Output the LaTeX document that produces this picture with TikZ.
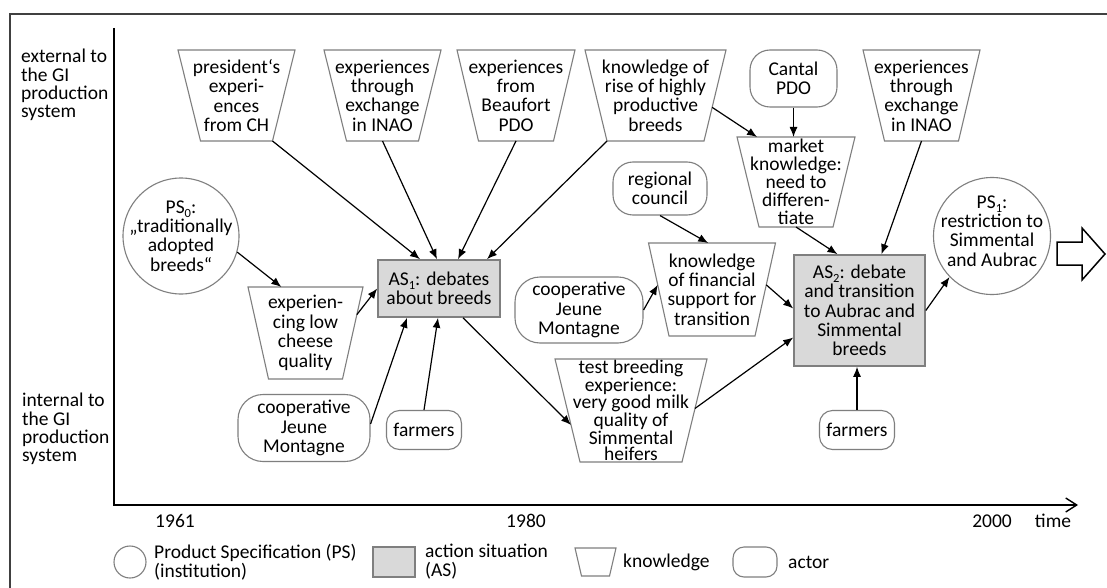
\documentclass[tikz,border=0pt]{standalone}
\usepackage{fontspec}
\setmainfont{Carlito}
\usetikzlibrary{arrows.meta,calc}
\definecolor{shp}{HTML}{7F7F7F}
\definecolor{asfill}{HTML}{D9D9D9}
\definecolor{frm}{HTML}{404040}
\newcommand\sub[1]{\smash{\raisebox{-0.2em}{\fontsize{12.5}{12.5}\selectfont #1}}}
% knowledge trapezoid: name, cx, cy, half top, half bottom, half height, baselineskip, text
\newcommand\knw[8]{%
  \node[font=\fontsize{19.5}{#7}\selectfont] (#1) at (#2,#3) {#8};
  \coordinate (#1-tl) at ({#2-#4},{#3-#6});
  \coordinate (#1-tr) at ({#2+#4},{#3-#6});
  \coordinate (#1-br) at ({#2+#5},{#3+#6});
  \coordinate (#1-bl) at ({#2-#5},{#3+#6});
  \draw[knshape] (#1-tl) -- (#1-tr) -- (#1-br) -- (#1-bl) -- cycle;
}
\tikzset{
  every node/.style={inner sep=0pt, align=center, font=\fontsize{19.5}{19.3}\selectfont},
  knshape/.style={draw=shp, line width=1.1pt},
  actor/.style={draw=shp, line width=1.1pt, rounded corners=#1},
  actor/.default=20pt,
  ps/.style={circle, draw=shp, line width=1.1pt, minimum size=#1},
  asbox/.style={draw=shp, fill=asfill, line width=1.6pt},
  conn/.style={line width=1.2pt, -{Latex[length=10pt,width=8pt]}},
  lbl/.style={anchor=west, align=left},
}
\begin{document}
\begin{tikzpicture}[x=1pt,y=-1pt]
\useasboundingbox (0,0) rectangle (1107,588);
\fill[white] (0,0) rectangle (1107,588);
% frame
\draw[frm, line width=2pt] (10,588) -- (10,14) -- (1107,14);
% axes
\draw[line width=1.4pt, -{Straight Barb[length=11pt,width=14pt]}] (114,28) -- (114,505) -- (1078,505);
% axis labels
\node[lbl, font=\fontsize{19.5}{18.3}\selectfont] (ext) at (21,85) {external to\\the GI\\production\\system};
\node[lbl, font=\fontsize{19.5}{18.3}\selectfont] (int) at (22,429) {internal to\\the GI\\production\\system};
\node (y1961) at (175,521) {1961};
\node (y1980) at (526,521) {1980};
\node (y2000) at (992,521) {2000};
\node (ytime) at (1053,521) {time};

% institutions
\node[ps=116pt] (PS0) at (181,236) {};
\node (PS0t) at (181,236) {PS\sub{0}:\\„traditionally\\adopted\\breeds“};
\node[ps=117pt] (PS1) at (992,236) {};
\node (PS1t) at (992,231) {PS\sub{1}:\\restriction to\\Simmental\\and Aubrac};

% action situations
\node[asbox, minimum width=122pt, minimum height=57pt] (AS1) at (439,288.5) {AS\sub{1}: debates\\about breeds};
\node[asbox, minimum width=131pt, minimum height=111pt] (AS2) at (859.5,310.5) {AS\sub{2}: debate\\and transition\\to Aubrac and\\Simmental\\breeds};

% actors
\node[actor, minimum width=87pt, minimum height=57pt] (cantal) at (793.5,78.5) {Cantal\\PDO};
\node[actor, minimum width=94pt, minimum height=53pt] (regional) at (660,188.5) {regional\\council};
\node[actor=25pt, minimum width=128pt, minimum height=66pt] (coopM) at (579,310) {cooperative\\Jeune\\Montagne};
\node[actor=25pt, minimum width=132pt, minimum height=67pt] (coopB) at (304,428) {cooperative\\Jeune\\Montagne};
\node[actor=13pt, minimum width=75pt, minimum height=39pt] (farmersL) at (424,430) {farmers};
\node[actor=13pt, minimum width=75pt, minimum height=39pt] (farmersR) at (857,430) {farmers};

% knowledge
\knw{pres}{236.5}{95.5}{58.5}{36}{45.5}{19.3}{president‘s\\experi-\\ences\\from CH}
\knw{inaoA}{382.5}{95.5}{58.5}{36}{45.5}{19.3}{experiences\\through\\exchange\\in INAO}
\knw{beau}{516}{95.5}{59}{37.5}{45.5}{19.3}{experiences\\from\\Beaufort\\PDO}
\knw{rise}{655.5}{95.5}{70.5}{48.5}{45.5}{19.3}{knowledge of\\rise of highly\\productive\\breeds}
\knw{inaoB}{921.5}{95.5}{58.5}{37}{45.5}{19.3}{experiences\\through\\exchange\\in INAO}
\knw{mkt}{796}{182}{59}{37}{45}{18}{market\\knowledge:\\need to\\differen-\\tiate}
\knw{exp}{305.5}{333}{57.5}{37}{46}{19.5}{experien-\\cing low\\cheese\\quality}
\knw{fin}{712}{289.5}{63.5}{43}{46.5}{19.3}{knowledge\\of financial\\support for\\transition}
\knw{tb}{631}{410.5}{76}{51}{51.5}{16.4}{test breeding\\experience:\\very good milk\\quality of\\Simmental\\heifers}

% connectors
\draw[conn] (pres-br) -- ($(AS1.north)+(-19,0)$);
\draw[conn] ($(inaoA-bl)!0.5!(inaoA-br)$) -- ($(AS1.north)+(-2,0)$);
\draw[conn] ($(beau-bl)!0.5!(beau-br)$) -- ($(AS1.north)+(19,0)$);
\draw[conn] (rise-bl) -- ($(AS1.north)+(48,0)$);
\draw[conn] (PS0.344) -- ($(exp-tl)!0.29!(exp-tr)$);
\draw[conn] ($(exp-tr)!0.3!(exp-br)$) -- (AS1.west);
\draw[conn] ($(coopB.east)+(0,-4)$) -- ($(AS1.south)+(-32,0)$);
\draw[conn] (farmersL.north) -- ($(AS1.south)+(-1,0)$);
\draw[conn] ($(AS1.south)+(24,0)$) -- ($(tb-tl)!0.64!(tb-bl)$);
\draw[conn] ($(rise-tr)!0.63!(rise-br)$) -- ($(mkt-tl)!0.17!(mkt-tr)$);
\draw[conn] (cantal.south) -- (cantal.south |- mkt-tl);
\draw[conn] (regional.south) -- ($(fin-tl)!0.47!(fin-tr)$);
\draw[conn] (coopM.east) -- ($(fin-tl)!0.45!(fin-bl)$);
\draw[conn] ($(fin-tr)!0.45!(fin-br)$) -- ($(AS2.west)+(0,-2)$);
\draw[conn] ($(tb-tr)!0.48!(tb-br)$) -- ($(AS2.west)+(0,27)$);
\draw[conn] ($(mkt-bl)!0.5!(mkt-br)$) -- ($(AS2.north)+(-22,0)$);
\draw[conn] ($(inaoB-bl)!0.5!(inaoB-br)$) -- ($(AS2.north)+(22,0)$);
\draw[conn] (farmersR.north) -- (farmersR.north |- AS2.south);
\draw[conn] (AS2.east) -- (PS1.224);

% big outline arrow
\draw[line width=1.5pt, fill=white, line join=miter] (1057,242) -- (1082,242) -- (1082,228) -- (1105,254) -- (1082,280) -- (1082,265) -- (1057,265) -- cycle;

% legend
\node[ps=32pt] (lgps) at (130,562) {};
\node[lbl, font=\fontsize{19.5}{19}\selectfont] (lgpst) at (154,562) {Product Specification (PS)\\(institution)};
\node[asbox, minimum width=42pt, minimum height=30pt] (lgas) at (394,562) {};
\node[lbl, font=\fontsize{19.5}{19}\selectfont] (lgast) at (425,562) {action situation\\(AS)};
\knw{lgkn}{595.5}{562}{20.5}{14}{14}{19}{}
\node[lbl] (lgknt) at (623,562) {knowledge};
\node[actor=11pt, minimum width=44pt, minimum height=30pt] (lgac) at (755,562) {};
\node[lbl] (lgact) at (788,562) {actor};
\end{tikzpicture}
\end{document}
